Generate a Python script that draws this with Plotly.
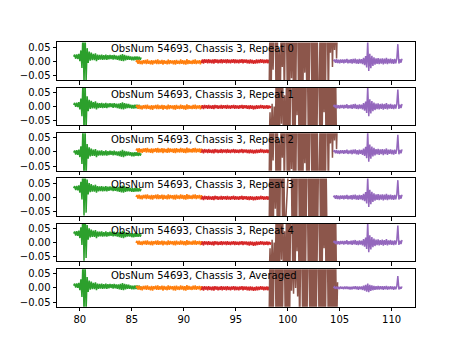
import numpy as np
import plotly.graph_objects as go

# ---------------- data (values in units of 1e-3) ----------------
panel_titles = [
    "ObsNum 54693, Chassis 3, Repeat 0",
    "ObsNum 54693, Chassis 3, Repeat 1",
    "ObsNum 54693, Chassis 3, Repeat 2",
    "ObsNum 54693, Chassis 3, Repeat 3",
    "ObsNum 54693, Chassis 3, Repeat 4",
    "ObsNum 54693, Chassis 3, Averaged",
]

x_ticks = [80, 85, 90, 95, 100, 105, 110]
y_ticks = [-0.05, 0.0, 0.05]

# segment extents (x)
green_span = [79.4, 85.9]
orange_span = [85.4, 91.8]
red_span = [91.7, 98.4]
brown_span = [98.2, 104.8]
purple_span = [104.4, 111.0]

green_vals = [6, 13, -1, 14, -2, 16, -10, 28, -34, 100, -90, 96, -80, 36, -16, 24, -8, 20, -6, 16, -6,
              18, -10, 13, -5, 12, -4, 13, -5, 11, -4, 13, -5, 11, -3, 12, -2, 11, -4, 12,
              -3, 10, -5, 10, -7, 12, -9, 15, -10, 12, -7, 10, -5, 9, -5,
              7, -7, 6, -7, 7, -6, 7, -6, 6, -5, 3]

orange_vals = [0, 7, -6, 8, -7, 5, -8, 7, -5, 8, -7, 9, -6, 5, -8, 7, -9, 6, -5, 8, -7, 9, -7, 6, -6,
               8, -9, 7, -6, 5, -8, 9, -7, 7, -5, 6, -8, 7, -9, 8, -6, 5, -7, 9, -6, 7, -8, 6, -9, 10,
               -7, 7, -6, 5, -7, 8, -6, 9, -7, 6, -5, 7, -8, 6, -3]

red_vals = [-6, 6, -8, 7, -5, 6, -7, 7, -6, 5, -7, 6, -8, 7, -5, 6, -7, 5, -6, 7, -7, 6, -5, 6, -7,
            7, -6, 5, -7, 6, -5, 7, -7, 6, -6, 5, -7, 6, -5, 7, -7, 6, -5, 6, -7, 5, -8, 6, -7, 5,
            -9, 4, -8, 6, -7, 5, -6, 7, -5, 6, -7, 5, -6, 6, -7, 5, -5, 3]

brown_a = [-150, 150, -150, 150, -30, 150, 150, -150, 150, -150, 40, -150, 150, -20, 150, -150, 150,
           150, -150, 150, -150, 150, -60, 150, -150, 150, -150, 150, 150, -150, 150, -150, 150, -150,
           150, -40, 150, -150, 150, -150, 150, 150, -150, 150, -150, 150, -150, 150, -150, -150, 150,
           -150, 150, -150, 150, -150, 150, 150, -150, 150, 30, 150, -20, 150, 40, 150, 10, 150]

brown_b = [-150, -20, -150, 10, -150, 0, -150, 150, -150, 150, -150, 150, -60, 150, -150, 40, -150,
           150, -150, 150, -150, 150, 150, -150, 150, -150, 150, -30, 150, -150, 150, -150, 150, -150,
           150, -150, 150, 150, -150, 150, -150, 150, -150, 150, -150, 150, -150, 150, 150, -150, 150,
           -150, 150, -20, 150, -150, 150, -150, 150, -150, 150, -150, 150, -150, 150, -150, -150]

brown_c = [-150, 150, -150, 150, -150, 150, -40, 150, -150, 150, -150, 150, 150, -150, 150, -150,
           150, 150, 150, 150, 150, 150, -150, 150, -150, 150, -150, 150, 150, -150, 150, -150, 150,
           -150, 150, -150, 150, 150, -150, 150, -150, 150, -150, 150, -150, 150, -150, 150, 150, -150,
           150, -150, 150, -150, 150, -150, -150, -150, -150, -150, -150, -150, -150, -150, -150, -150]

brown_avg = [-150, 150, -150, 150, -150, 150, 150, -150, 150, -150, 150, -150, 150, -150, 150, 150,
             -150, 150, -150, 150, -150, 150, -10, 150, -20, 150, 0, 150, -30, 150, -150, 150, 150,
             -150, 150, -150, 150, -150, 150, 150, -150, 150, -150, 150, -150, 150, -150, 150, 150,
             -150, 150, -150, 150, -150, 150, -150, 150, 150, -150, 150, -150, 150, -150, 150, -150,
             150, -150, 20]

purple_vals = [0, 6, -5, 7, -6, 5, -7, 6, -5, 6, -7, 6, -5, 8, -7, 5, -6, 7, -8, 8, -6, 9, -8, 6,
               -9, 8, -7, 7, -10, 12, -14, 18, -22, 70, -34, 26, -24, 19, -16, 14, -12, 10, -9, 11,
               -10, 9, -8, 10, -11, 9, -8, 12, -10, 8, -7, 9, -8, 7, -9, 8, -7, 9, 60, -8, 7, -5, 9]

purple_avg = [0, 4, -3, 5, -4, 4, -4, 5, -3, 4, -4, 5, -4, 5, -4, 4, -5, 4, -5, 5, -4, 6, -5, 5,
              -6, 5, -5, 5, -7, 8, -9, 11, -13, 15, -15, 11, -10, 9, -8, 7, -7, 6, -6, 7, -6,
              6, -5, 6, -7, 6, -5, 7, -6, 5, -5, 6, -5, 5, -6, 5, -5, 6, 42, -5, 4, -3, 5]

# per-panel offsets (1e-3)
green_level = [10, 0, -8, 26, 26, 2]
orange_level = [-3, -2, 5, 1, -1, 0]
red_level = [0, -1, 3, -2, -2, -1]
purple_level = [0, 0, 0, 0, 0, 0]
brown_sets = [brown_a, brown_b, brown_a, brown_c, brown_b, brown_avg]
purple_sets = [purple_vals, purple_vals, purple_vals, purple_vals, purple_vals, purple_avg]

# ---------------- styling ----------------
C_GREEN, C_ORANGE, C_RED, C_BROWN, C_PURPLE = "#2ca02c", "#ff7f0e", "#d62728", "#8c564b", "#9467bd"
W, H = 461, 346
FONT = "DejaVu Sans"
X_RANGE = [77.8, 112.25]
Y_RANGE = [-0.066, 0.066]
PANEL_TOP0, PANEL_PITCH, PANEL_H = 41.7, 45.6, 37.8

fig = go.Figure()
layout_axes = {}
annotations = []
for p in range(6):
    sfx = "" if p == 0 else str(p + 1)
    xa, ya = "x" + sfx, "y" + sfx
    segs = [
        (green_vals, green_span, C_GREEN, green_level[p]),
        (orange_vals, orange_span, C_ORANGE, orange_level[p]),
        (red_vals, red_span, C_RED, red_level[p]),
        (brown_sets[p], brown_span, C_BROWN, 0),
        (purple_sets[p], purple_span, C_PURPLE, purple_level[p]),
    ]
    for vals, span, col, lev in segs:
        v = np.array(vals, dtype=float)
        x = np.linspace(span[0], span[1], len(v))
        y = (v + lev) * 1e-3
        fig.add_trace(go.Scatter(x=x, y=y, mode="lines", line=dict(color=col, width=1.5),
                                 xaxis=xa, yaxis=ya, showlegend=False, hoverinfo="skip"))
    top = PANEL_TOP0 + p * PANEL_PITCH
    bot = top + PANEL_H
    layout_axes["xaxis" + sfx] = dict(
        domain=[0, 1], anchor=ya, range=X_RANGE, tickvals=x_ticks,
        showticklabels=(p == 5), ticks="outside", ticklen=3.5, tickwidth=0.8, tickcolor="black",
        showline=True, mirror=True, linecolor="black", linewidth=1,
        showgrid=False, zeroline=False, tickfont=dict(family=FONT, size=10, color="black"),
    )
    layout_axes["yaxis" + sfx] = dict(
        domain=[1 - bot / H, 1 - top / H], anchor=xa, range=Y_RANGE, tickvals=y_ticks,
        tickformat=".2f", ticks="outside", ticklen=3.5, tickwidth=0.8, tickcolor="black",
        showline=True, mirror=True, linecolor="black", linewidth=1,
        showgrid=False, zeroline=False, tickfont=dict(family=FONT, size=10, color="black"),
    )
    annotations.append(dict(
        text=panel_titles[p], xref=xa + " domain", yref=ya + " domain",
        x=0.147, y=1, xanchor="left", yanchor="top", showarrow=False,
        font=dict(family=FONT, size=10, color="black"), borderpad=0,
    ))

fig.update_layout(
    width=W, height=H, margin=dict(l=57, r=46, t=0, b=0),
    paper_bgcolor="white", plot_bgcolor="white",
    annotations=annotations, **layout_axes,
)
fig.write_html("out.html")
